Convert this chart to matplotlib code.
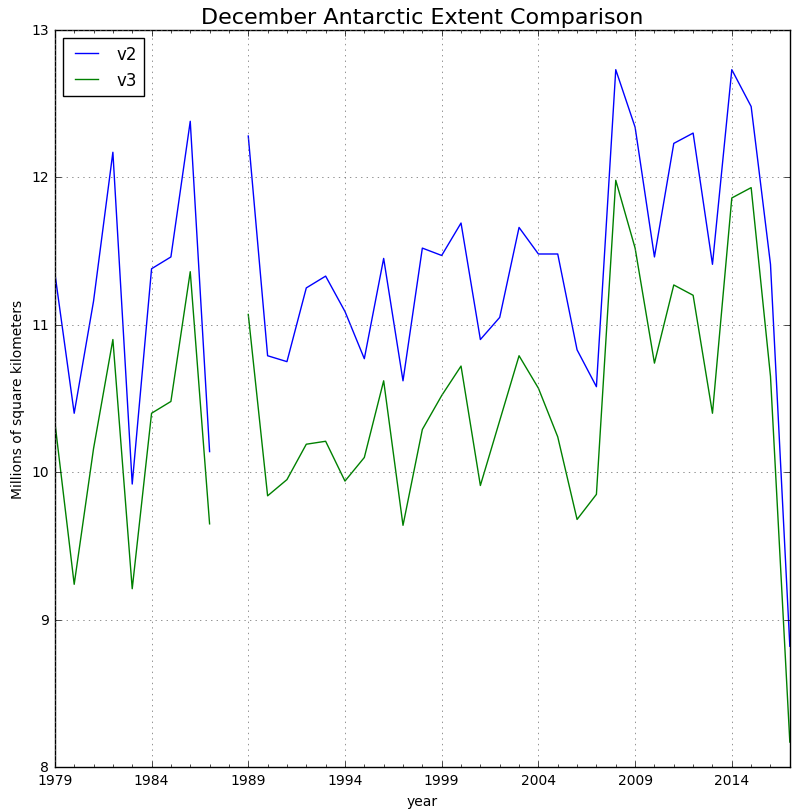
import numpy as np
import matplotlib
matplotlib.use('Agg')
from matplotlib import pyplot as plt
from matplotlib.ticker import MultipleLocator

plt.style.use('classic')

years = list(range(1979, 2018))
v2 = [11.35, 10.40, 11.16, 12.17, 9.92, 11.38, 11.46, 12.38, 10.14, np.nan,
      12.28, 10.79, 10.75, 11.25, 11.33, 11.09, 10.77, 11.45, 10.62, 11.52,
      11.47, 11.69, 10.90, 11.05, 11.66, 11.48, 11.48, 10.83, 10.58, 12.73,
      12.34, 11.46, 12.23, 12.30, 11.41, 12.73, 12.48, 11.41, 8.82]
v3 = [10.34, 9.24, 10.16, 10.90, 9.21, 10.40, 10.48, 11.36, 9.65, np.nan,
      11.07, 9.84, 9.95, 10.19, 10.21, 9.94, 10.10, 10.62, 9.64, 10.29,
      10.52, 10.72, 9.91, 10.35, 10.79, 10.57, 10.24, 9.68, 9.85, 11.98,
      11.52, 10.74, 11.27, 11.20, 10.40, 11.86, 11.93, 10.65, 8.17]

fig = plt.figure(figsize=(7.95, 8.12), dpi=100)
ax = fig.add_axes([0.069, 0.054, 0.9245, 0.908])

ax.plot(years, v2, color='b', label='v2')
ax.plot(years, v3, color='g', label='v3')

ax.set_xlim(1979, 2017)
ax.set_ylim(8, 13)
ax.xaxis.set_minor_locator(MultipleLocator(1))
ax.set_xticks(range(1979, 2018, 5))
ax.ticklabel_format(useOffset=False)
ax.tick_params(labelsize=10)
ax.grid(True, color='0.4')

ax.set_title('December Antarctic Extent Comparison', fontsize=16)
ax.set_xlabel('year', fontsize=10)
ax.set_ylabel('Millions of square kilometers', fontsize=10)
ax.legend(loc='upper left', fontsize=12)

fig.savefig('out.png', dpi=100)
